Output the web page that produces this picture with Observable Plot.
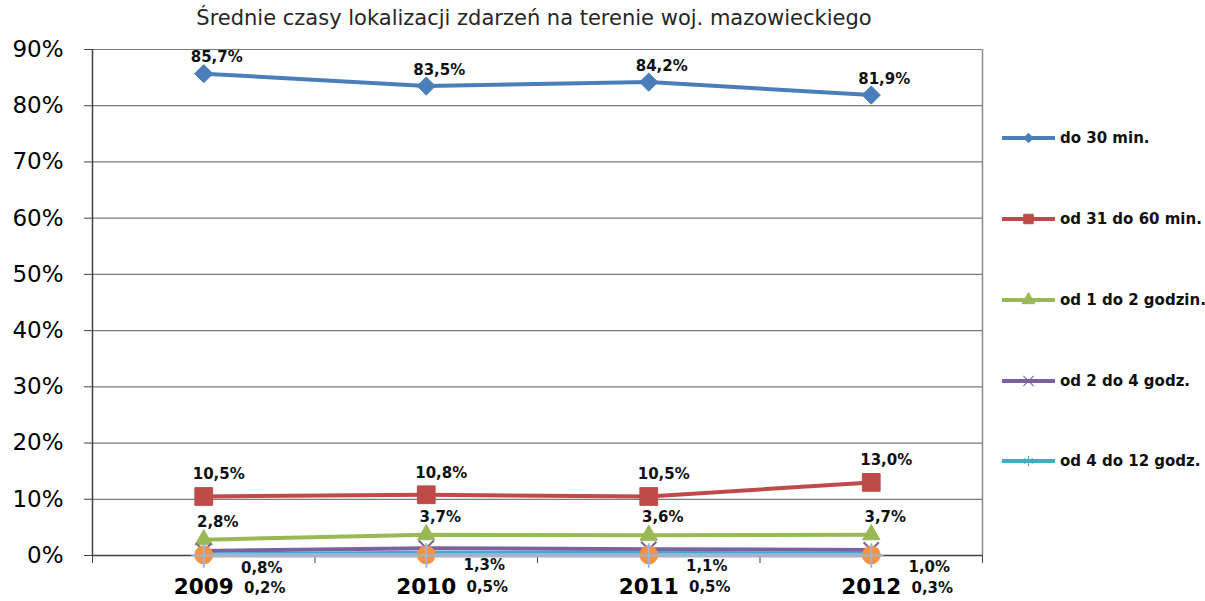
<!DOCTYPE html>
<html>
<head>
<meta charset="utf-8">
<script src="https://cdn.jsdelivr.net/npm/d3@7"></script>
<script src="https://cdn.jsdelivr.net/npm/@observablehq/plot@0.6"></script>
<style>
  html, body { margin: 0; padding: 0; background: #fff; }
  #wrap { position: relative; width: 1205px; height: 601px; background: #fff; font-family: "DejaVu Sans", sans-serif; }
  #title { position: absolute; left: 0; top: 6px; width: 1068px; text-align: center; font-size: 21px; color: #262626; }
  #chart { position: absolute; left: 0; top: 38px; }
  #legend { position: absolute; left: 1002px; top: 98px; }
  .item { height: 80.75px; display: flex; align-items: center; font-weight: bold; font-size: 15px; color: #111; white-space: nowrap; }
  .item svg { margin-right: 5px; }
</style>
</head>
<body>
<div id="wrap">
  <div id="title"></div>
  <div id="chart"></div>
  <div id="legend"></div>
</div>
<script>
const titleText = "Średnie czasy lokalizacji zdarzeń na terenie woj. mazowieckiego";
const years = [2009, 2010, 2011, 2012];
const seriesNames = ["do 30 min.", "od 31 do 60 min.", "od 1 do 2 godzin.", "od 2 do 4 godz.", "od 4 do 12 godz.", "od 12 do 24 godz.", "powyżej 24 godz."];
const do30 = [85.7, 83.5, 84.2, 81.9];
const od31do60 = [10.5, 10.8, 10.5, 13.0];
const od1do2 = [2.8, 3.7, 3.6, 3.7];
const od2do4 = [0.8, 1.3, 1.1, 1.0];
const od4do12 = [0.2, 0.5, 0.5, 0.3];
const od12do24 = [0.1, 0.1, 0.1, 0.1];
const powyzej24 = [0.0, 0.0, 0.0, 0.0];
const yTicks = [0, 10, 20, 30, 40, 50, 60, 70, 80, 90];
const colors = ["#4A7EBB", "#BE4B48", "#98B954", "#7D60A0", "#46AAC5", "#F69240", "#9BB6DA"];
const symbols = ["diamond2", "square", "triangle", "times", "asterisk", "circle", "plus"];
const legendCount = 5;

const allValues = [do30, od31do60, od1do2, od2do4, od4do12, od12do24, powyzej24];
const data = [];
allValues.forEach((vals, si) => vals.forEach((v, i) => data.push({series: seriesNames[si], si, year: years[i], value: v})));
const fmt = v => v.toFixed(1).replace(".", ",") + "%";
const boundaries = years.map(y => y - 0.5).concat([years[years.length - 1] + 0.5]);

document.getElementById("title").textContent = titleText;

const color = {domain: seriesNames, range: colors};
const symbolScale = {domain: seriesNames, range: symbols};

const sizeBy = {"diamond2": 8.2, "square": 10, "triangle": 6.5, "times": 7, "asterisk": 7, "circle": 9, "plus": 8};
const filled = new Set(["diamond2", "square", "triangle", "circle"]);

const dotMarks = seriesNames.map((name, si) => {
  const sym = symbols[si];
  const d = data.filter(r => r.si === si);
  return filled.has(sym)
    ? Plot.dot(d, {x: "year", y: "value", symbol: "series", fill: "series", stroke: "series", r: sizeBy[sym], strokeWidth: 1})
    : Plot.dot(d, {x: "year", y: "value", symbol: "series", stroke: "series", r: sizeBy[sym], strokeWidth: 2});
});

const labelStyle = {fontSize: 15, fontWeight: "bold", fill: "#111", text: d => fmt(d.value)};
const labelOffsets = [
  {dx: 13, dy: -16},
  {dx: 15, dy: -22},
  {dx: 14, dy: -18},
  {dx: 58, dy: 17},
  {dx: 61, dy: 34}
];
const labelMarks = labelOffsets.map((o, si) =>
  Plot.text(data.filter(r => r.si === si), {x: "year", y: "value", ...o, ...labelStyle}));

const chart = Plot.plot({
  width: 1205,
  height: 563,
  marginTop: 11,
  marginBottom: 46,
  marginLeft: 92,
  marginRight: 223,
  style: {fontFamily: "'DejaVu Sans', sans-serif", color: "#000", overflow: "visible", background: "transparent"},
  x: {domain: [boundaries[0], boundaries[boundaries.length - 1]], axis: null},
  y: {domain: [0, 90], axis: null},
  color,
  symbol: symbolScale,
  marks: [
    Plot.ruleY(yTicks.filter(t => t > 0), {stroke: "#7a7a7a", strokeWidth: 1.2}),
    Plot.ruleX([boundaries[boundaries.length - 1]], {stroke: "#8a8a8a", strokeWidth: 1.5}),
    Plot.ruleY([0], {stroke: "#404040", strokeWidth: 1.5}),
    Plot.ruleX([boundaries[0]], {stroke: "#404040", strokeWidth: 1.5}),
    Plot.axisY({ticks: yTicks, tickSize: 8, tickPadding: 21, tickFormat: d => d + "%", fontSize: 23, stroke: "#404040", anchor: "left", label: null}),
    Plot.axisX({ticks: boundaries, tickSize: 8, tickFormat: () => "", stroke: "#404040", anchor: "bottom", label: null}),
    Plot.axisX({ticks: years, tickSize: 0, tickPadding: 23, tickFormat: d => String(d), fontSize: 21.5, fontWeight: "bold", anchor: "bottom", label: null}),
    Plot.line(data, {x: "year", y: "value", z: "series", stroke: "series", strokeWidth: 4}),
    ...dotMarks,
    ...labelMarks
  ]
});
document.getElementById("chart").appendChild(chart);

// legend
const legend = document.getElementById("legend");
const symMap = {"diamond2": d3.symbolDiamond2, "square": d3.symbolSquare, "triangle": d3.symbolTriangle, "times": d3.symbolTimes, "asterisk": d3.symbolAsterisk};
const legendSize = {"diamond2": 60, "square": 90, "triangle": 70, "times": 70, "asterisk": 70};
seriesNames.slice(0, legendCount).forEach((name, si) => {
  const item = document.createElement("div");
  item.className = "item";
  const svg = d3.create("svg").attr("width", 53).attr("height", 16);
  svg.append("line").attr("x1", 1).attr("x2", 52).attr("y1", 8).attr("y2", 8)
    .attr("stroke", colors[si]).attr("stroke-width", 4).attr("stroke-linecap", "round");
  const sym = symbols[si];
  const p = svg.append("path").attr("transform", "translate(26.5,8)").attr("d", d3.symbol(symMap[sym], legendSize[sym])());
  if (filled.has(sym)) p.attr("fill", colors[si]).attr("stroke", colors[si]);
  else p.attr("fill", "none").attr("stroke", colors[si]).attr("stroke-width", 1.2).attr("stroke-opacity", 0.9);
  item.appendChild(svg.node());
  const t = document.createElement("span");
  t.textContent = name;
  item.appendChild(t);
  legend.appendChild(item);
});
</script>
</body>
</html>
